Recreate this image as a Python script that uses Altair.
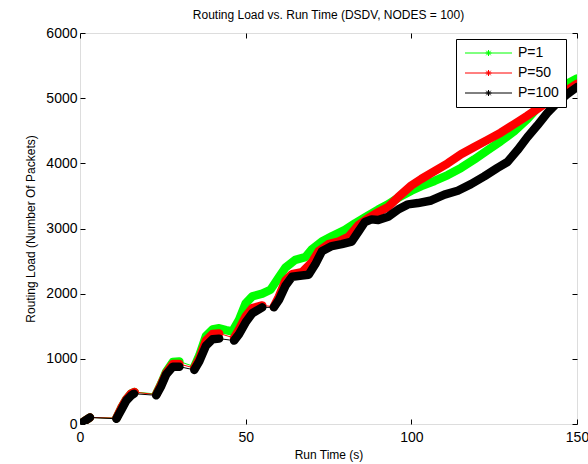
import altair as alt
import pandas as pd

SERIES = ["P=1", "P=50", "P=100"]
COLORS = ["#00ff00", "#ff0000", "#000000"]

# P=1
T_P1 = [0, 1.5, 3, 11, 12.5, 14, 15.5, 16.5, 23, 24.5, 26, 28, 30,
        34.5, 36, 38, 40, 42, 44, 46, 48, 50, 52, 55, 57.5, 60, 62, 65, 68, 70, 73, 76,
        80, 83, 86, 90, 93, 96, 100, 103, 107, 111, 115, 119, 123, 127, 131, 135,
        139, 143, 147, 150]
V_P1 = [0, 50, 100, 90, 250, 380, 470, 490, 460, 620, 800, 950, 960,
        880, 1050, 1350, 1450, 1470, 1440, 1420, 1600, 1850, 1960, 2000, 2060, 2250, 2400, 2520, 2560, 2680, 2800, 2880,
        2980, 3080, 3170, 3290, 3370, 3470, 3580, 3650, 3730, 3820, 3930, 4060, 4200, 4340, 4490, 4680,
        4900, 5080, 5220, 5300]
S_P1 = [0, 0, 0, 1, 1, 1, 1, 1, 2, 2, 2, 2, 2,
        3, 3, 3, 3, 3, 3, 3, 3, 3, 3, 3, 3, 3, 3, 3, 3, 3, 3, 3,
        3, 3, 3, 3, 3, 3, 3, 3, 3, 3, 3, 3, 3, 3, 3, 3,
        3, 3, 3, 3]

# P=50
T_P50 = [0, 1.5, 3, 11, 12.5, 14, 15.5, 16.5, 23, 24.5, 26, 28, 30,
         34.5, 36, 38, 40, 42, 46.5, 48, 50, 52, 55,
         58.5, 60, 62, 64, 67, 70, 72, 75, 78, 81, 84, 87, 90, 93, 96, 100, 103, 107,
         111, 115, 119, 123, 127, 131, 135, 139, 143, 147, 150]
V_P50 = [0, 50, 100, 90, 250, 380, 470, 490, 450, 610, 780, 920, 920,
         860, 1000, 1280, 1380, 1390, 1320, 1450, 1650, 1780, 1820,
         1800, 1950, 2200, 2300, 2330, 2480, 2650, 2760, 2800, 2870, 3050, 3160, 3250, 3330, 3480, 3660, 3760, 3880,
         4000, 4140, 4250, 4360, 4470, 4600, 4730, 4870, 5000, 5120, 5220]
S_P50 = [0, 0, 0, 1, 1, 1, 1, 1, 2, 2, 2, 2, 2,
         3, 3, 3, 3, 3, 4, 4, 4, 4, 4,
         5, 5, 5, 5, 5, 5, 5, 5, 5, 5, 5, 5, 5, 5, 5, 5, 5, 5,
         5, 5, 5, 5, 5, 5, 5, 5, 5, 5, 5]

# P=100
T_P100 = [0, 1.5, 3, 11, 12.5, 14, 15.5, 16.3, 23, 24.5, 26, 28, 30,
          34.5, 36, 38, 40, 42, 46.5, 48, 50, 52, 55,
          58.5, 60, 62, 64, 67, 69, 71, 73, 76, 79, 82, 84, 86, 88, 90, 93, 96, 99, 102,
          106, 110, 114, 118, 122, 126, 129, 132, 135, 138, 141, 144, 147, 150]
V_P100 = [0, 50, 100, 80, 220, 360, 440, 465, 440, 580, 760, 880, 880,
          830, 960, 1200, 1300, 1310, 1280, 1380, 1560, 1700, 1790,
          1790, 1900, 2120, 2260, 2280, 2290, 2450, 2650, 2730, 2760, 2800, 2950, 3100, 3140, 3130, 3180, 3290, 3370, 3390,
          3430, 3520, 3580, 3680, 3800, 3930, 4020, 4200, 4400, 4580, 4770, 4930, 5060, 5170]
S_P100 = [0, 0, 0, 1, 1, 1, 1, 1, 2, 2, 2, 2, 2,
          3, 3, 3, 3, 3, 4, 4, 4, 4, 4,
          5, 5, 5, 5, 5, 5, 5, 5, 5, 5, 5, 5, 5, 5, 5, 5, 5, 5, 5,
          5, 5, 5, 5, 5, 5, 5, 5, 5, 5, 5, 5, 5, 5]

X_TICKS = [0, 50, 100, 150]
Y_TICKS = [0, 1000, 2000, 3000, 4000, 5000, 6000]

rows = []
for name, ts, vs, ss in [("P=1", T_P1, V_P1, S_P1),
                         ("P=50", T_P50, V_P50, S_P50),
                         ("P=100", T_P100, V_P100, S_P100)]:
    for t, v, s in zip(ts, vs, ss):
        rows.append({"series": name, "t": t, "v": v, "seg": f"{name}-{s}"})
df = pd.DataFrame(rows)

FONT = "Liberation Sans"
cscale = alt.Scale(domain=SERIES, range=COLORS)

xscale = alt.Scale(domain=[0, 150], nice=False, zero=False)
yscale = alt.Scale(domain=[0, 6000], nice=False)

main_x_axis = alt.Axis(values=X_TICKS, orient="bottom", offset=-5, tickSize=5, domain=False,
                       grid=False, labelFontSize=14, labelFont=FONT, labelColor="black",
                       tickColor="black", labelPadding=6, labelFlush=False, format="d",
                       title="Run Time (s)", titleFont=FONT, titleFontSize=12,
                       titleFontWeight="normal", titleColor="black", titlePadding=5)
main_y_axis = alt.Axis(values=Y_TICKS, orient="left", offset=-5, tickSize=5, domain=False,
                       grid=False, labelFontSize=14, labelFont=FONT, labelColor="black",
                       tickColor="black", labelPadding=3, labelFlush=False, format="d",
                       title="Routing Load (Number Of Packets)", titleFont=FONT, titleFontSize=12,
                       titleFontWeight="normal", titleColor="black", titlePadding=8)
top_x_axis = alt.Axis(values=X_TICKS, orient="top", offset=-5, tickSize=5, domain=False,
                      grid=False, labels=False, tickColor="black", title=None,
                      minExtent=0, maxExtent=0)
right_y_axis = alt.Axis(values=Y_TICKS, orient="right", offset=-5, tickSize=5, domain=False,
                        grid=False, labels=False, tickColor="black", title=None,
                        minExtent=0, maxExtent=0)

legend = alt.Legend(
    title=None, orient="none", legendX=376, legendY=6,
    symbolType=("M-1,0H8.4M3.7,-0.6V0.6M3.1,0H4.3"
                "M3.25,-0.45L4.15,0.45M3.25,0.45L4.15,-0.45"),
    symbolSize=100, symbolStrokeWidth=1, symbolFillColor="transparent",
    symbolOffset=0, labelOffset=41, labelFont=FONT, labelFontSize=14, labelColor="black",
    padding=7, rowPadding=6, strokeColor="black", fillColor="white", cornerRadius=0,
)


def layer(name, thick, xaxis=None, yaxis=None):
    base = alt.Chart(df).transform_filter(alt.datum.series == name)
    if thick:
        mark = base.mark_line(strokeWidth=8.5, clip=True, strokeJoin="round", strokeCap="round")
    else:
        mark = base.mark_line(strokeWidth=1, clip=True)
    enc = dict(
        x=alt.X("t:Q", scale=xscale, axis=xaxis),
        y=alt.Y("v:Q", scale=yscale, axis=yaxis),
        color=alt.Color("series:N", scale=cscale, legend=legend),
    )
    if thick:
        enc["detail"] = alt.Detail("seg:N")
    return mark.encode(**enc)


layers = [
    layer("P=1", False, main_x_axis, main_y_axis),
    layer("P=1", True),
    layer("P=50", False, top_x_axis, right_y_axis),
    layer("P=50", True),
    layer("P=100", False),
    layer("P=100", True),
]

chart = alt.layer(*layers).resolve_axis(x="independent", y="independent").properties(
    width=497, height=391,
    autosize=alt.AutoSizeParams(type="none"),
    padding={"left": 80, "top": 33, "right": 11, "bottom": 40},
    title=alt.TitleParams("Routing Load vs. Run Time (DSDV, NODES = 100)", font=FONT,
                          fontSize=12, fontWeight="normal", color="black", offset=11, dy=16,
                          baseline="alphabetic", anchor="middle", frame="group"),
).configure_view(stroke="black", strokeWidth=1).configure(background="white")

chart.save("out.html", embed_options={"renderer": "svg", "actions": False})
